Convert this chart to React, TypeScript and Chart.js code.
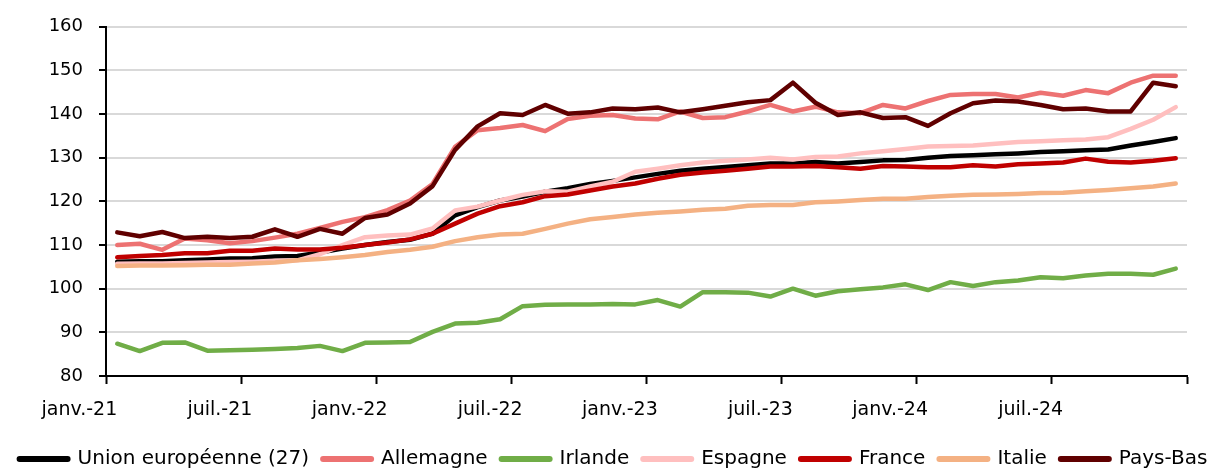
import React, { useEffect, useRef } from 'react';
import { Chart, registerables } from 'chart.js';

Chart.register(...registerables);

const categories: string[] = [
  'janv.-21', 'févr.-21', 'mars-21', 'avr.-21', 'mai-21', 'juin-21', 'juil.-21', 'août-21', 'sept.-21', 'oct.-21', 'nov.-21', 'déc.-21',
  'janv.-22', 'févr.-22', 'mars-22', 'avr.-22', 'mai-22', 'juin-22', 'juil.-22', 'août-22', 'sept.-22', 'oct.-22', 'nov.-22', 'déc.-22',
  'janv.-23', 'févr.-23', 'mars-23', 'avr.-23', 'mai-23', 'juin-23', 'juil.-23', 'août-23', 'sept.-23', 'oct.-23', 'nov.-23', 'déc.-23',
  'janv.-24', 'févr.-24', 'mars-24', 'avr.-24', 'mai-24', 'juin-24', 'juil.-24', 'août-24', 'sept.-24', 'oct.-24', 'nov.-24', 'déc.-24',
];

const tickLabels: string[] = ['janv.-21', 'juil.-21', 'janv.-22', 'juil.-22', 'janv.-23', 'juil.-23', 'janv.-24', 'juil.-24'];

const seriesNames: string[] = ['Union européenne (27)', 'Allemagne', 'Irlande', 'Espagne', 'France', 'Italie', 'Pays-Bas'];

const unionEuropeenne: number[] = [
  106.2, 106.3, 106.3, 106.5, 106.7, 106.9, 107.0, 107.4, 107.5, 108.3, 109.2, 110.0,
  110.7, 111.2, 112.6, 116.8, 118.7, 120.2, 121.1, 122.2, 123.0, 124.0, 124.7, 125.5,
  126.3, 127.0, 127.5, 127.9, 128.3, 128.7, 128.7, 129.0, 128.7, 129.0, 129.4, 129.5,
  130.0, 130.4, 130.6, 130.8, 131.0, 131.3, 131.5, 131.7, 131.9, 132.8, 133.6, 134.5,
];

const allemagne: number[] = [
  110.0, 110.3, 108.9, 111.5, 111.1, 110.4, 110.9, 111.7, 112.6, 113.9, 115.3, 116.4,
  118.0, 120.2, 124.0, 132.5, 136.3, 136.8, 137.5, 136.1, 138.9, 139.6, 139.8, 139.0,
  138.8, 140.6, 139.1, 139.3, 140.6, 142.1, 140.6, 141.7, 140.4, 140.2, 142.1, 141.3,
  143.0, 144.4, 144.6, 144.6, 143.8, 144.9, 144.2, 145.5, 144.8, 147.2, 148.8, 148.8,
];

const irlande: number[] = [
  87.4, 85.7, 87.6, 87.7, 85.8, 85.9, 86.0, 86.2, 86.4, 86.9, 85.7, 87.6,
  87.7, 87.8, 90.1, 92.0, 92.2, 93.0, 96.0, 96.3, 96.4, 96.4, 96.5, 96.4,
  97.4, 95.9, 99.2, 99.2, 99.1, 98.2, 100.0, 98.4, 99.4, 99.9, 100.3, 101.0,
  99.7, 101.5, 100.6, 101.5, 101.9, 102.6, 102.4, 103.0, 103.4, 103.4, 103.2, 104.6,
];

const espagne: number[] = [
  105.7, 105.8, 105.8, 105.9, 106.0, 106.1, 106.2, 106.4, 106.5, 107.9, 110.0, 111.8,
  112.2, 112.4, 113.8, 117.9, 118.8, 120.2, 121.5, 122.3, 122.2, 123.4, 124.5, 126.8,
  127.5, 128.3, 128.9, 129.3, 129.6, 130.0, 129.6, 130.2, 130.3, 131.0, 131.5, 132.0,
  132.6, 132.7, 132.8, 133.2, 133.6, 133.8, 134.0, 134.2, 134.7, 136.6, 138.7, 141.6,
];

const france: number[] = [
  107.2, 107.5, 107.7, 108.1, 108.1, 108.7, 108.7, 109.2, 109.0, 109.0, 109.4, 110.0,
  110.6, 111.3, 112.6, 114.9, 117.2, 118.9, 119.8, 121.2, 121.6, 122.5, 123.4, 124.1,
  125.2, 126.1, 126.6, 127.0, 127.5, 128.0, 128.0, 128.1, 127.8, 127.5, 128.1, 128.0,
  127.8, 127.8, 128.3, 128.0, 128.5, 128.7, 128.9, 129.8, 129.1, 128.9, 129.3, 129.9,
];

const italie: number[] = [
  105.2, 105.3, 105.3, 105.4, 105.5, 105.5, 105.8, 106.0, 106.5, 106.8, 107.2, 107.7,
  108.4, 108.9, 109.6, 110.9, 111.8, 112.4, 112.6, 113.7, 114.9, 115.9, 116.4, 117.0,
  117.4, 117.7, 118.1, 118.3, 119.0, 119.2, 119.2, 119.8, 120.0, 120.3, 120.6, 120.6,
  121.0, 121.3, 121.5, 121.6, 121.7, 121.9, 122.0, 122.3, 122.6, 123.0, 123.4, 124.1,
];

const paysBas: number[] = [
  112.9, 112.0, 113.0, 111.6, 111.9, 111.6, 111.9, 113.6, 111.9, 113.7, 112.6, 116.2,
  117.0, 119.5, 123.5, 131.8, 137.2, 140.2, 139.8, 142.1, 140.1, 140.4, 141.3, 141.1,
  141.5, 140.4, 141.1, 141.9, 142.7, 143.2, 147.2, 142.6, 139.8, 140.4, 139.1, 139.3,
  137.3, 140.2, 142.5, 143.1, 142.9, 142.1, 141.1, 141.3, 140.6, 140.6, 147.2, 146.4,
];

const seriesValues: number[][] = [unionEuropeenne, allemagne, irlande, espagne, france, italie, paysBas];
const seriesColors: string[] = ['#000000', '#ED7272', '#70AD47', '#FFBFBF', '#C00000', '#F4B183', '#600000'];

const yTicks = { min: 80, max: 160, step: 10 };

const FONT = "'DejaVu Sans', sans-serif";

export default function App() {
  const canvasRef = useRef<HTMLCanvasElement | null>(null);

  useEffect(() => {
    if (!canvasRef.current) return;
    const n = seriesNames.length;
    const chart = new Chart(canvasRef.current, {
      type: 'line',
      data: {
        labels: categories,
        datasets: seriesNames.map((name, i) => ({
          label: name,
          data: seriesValues[i],
          borderColor: seriesColors[i],
          backgroundColor: seriesColors[i],
          borderWidth: 4.5,
          pointRadius: 0,
          pointHoverRadius: 0,
          tension: 0,
          borderCapStyle: 'round' as const,
          borderJoinStyle: 'round' as const,
          fill: false,
          order: n - 1 - i,
        })),
      },
      options: {
        animation: false,
        responsive: false,
        devicePixelRatio: 1,
        layout: { padding: { left: 0, right: 0, top: 23, bottom: -8 } },
        plugins: {
          tooltip: { enabled: false },
          legend: {
            display: true,
            position: 'bottom',
            align: 'center',
            labels: {
              usePointStyle: true,
              pointStyleWidth: 48,
              padding: 14,
              color: '#000',
              font: { family: FONT, size: 20 },
              generateLabels: (ch: any) =>
                ch.data.datasets.map((ds: any, i: number) => ({
                  text: ds.label,
                  fillStyle: ds.borderColor,
                  strokeStyle: ds.borderColor,
                  fontColor: '#000',
                  lineWidth: 6,
                  lineCap: 'round',
                  pointStyle: 'line',
                  hidden: false,
                  datasetIndex: i,
                })),
            },
          },
        },
        scales: {
          x: {
            type: 'category',
            offset: true,
            afterFit: (s: any) => { s.height = 59; },
            grid: {
              display: true,
              offset: true,
              drawOnChartArea: false,
              drawTicks: true,
              tickLength: 8,
              tickWidth: 2,
              tickColor: (c: any) =>
                c.index === undefined || tickLabels.includes(categories[c.index]) ? '#000' : 'rgba(0,0,0,0)',
            },
            border: { display: true, color: '#000', width: 2 },
            ticks: {
              autoSkip: false,
              maxRotation: 0,
              minRotation: 0,
              align: 'end',
              padding: 15,
              color: '#000',
              font: { family: FONT, size: 19 },
              callback: (_v: any, i: number) => (tickLabels.includes(categories[i]) ? categories[i] : ''),
            },
          },
          y: {
            type: 'linear',
            position: 'left',
            min: yTicks.min,
            max: yTicks.max,
            afterFit: (s: any) => { s.width = 106; },
            grid: {
              color: '#D9D9D9',
              lineWidth: 2,
              drawTicks: true,
              tickLength: 7,
              tickWidth: 2,
              tickColor: '#000',
            },
            border: { display: true, color: '#000', width: 2 },
            ticks: {
              stepSize: yTicks.step,
              padding: 16,
              color: '#000',
              font: { family: FONT, size: 18 },
            },
          },
          yRight: {
            type: 'linear',
            position: 'right',
            display: true,
            afterFit: (s: any) => { s.width = 40; },
            grid: { display: false, drawTicks: false },
            border: { display: false },
            ticks: { display: false },
          },
        },
      } as any,
    });
    return () => chart.destroy();
  }, []);

  return (
    <div style={{ position: 'absolute', left: 0, top: 0, width: 1227, height: 471, background: '#fff' }}>
      <canvas ref={canvasRef} width={1227} height={471} style={{ display: 'block' }} />
    </div>
  );
}
